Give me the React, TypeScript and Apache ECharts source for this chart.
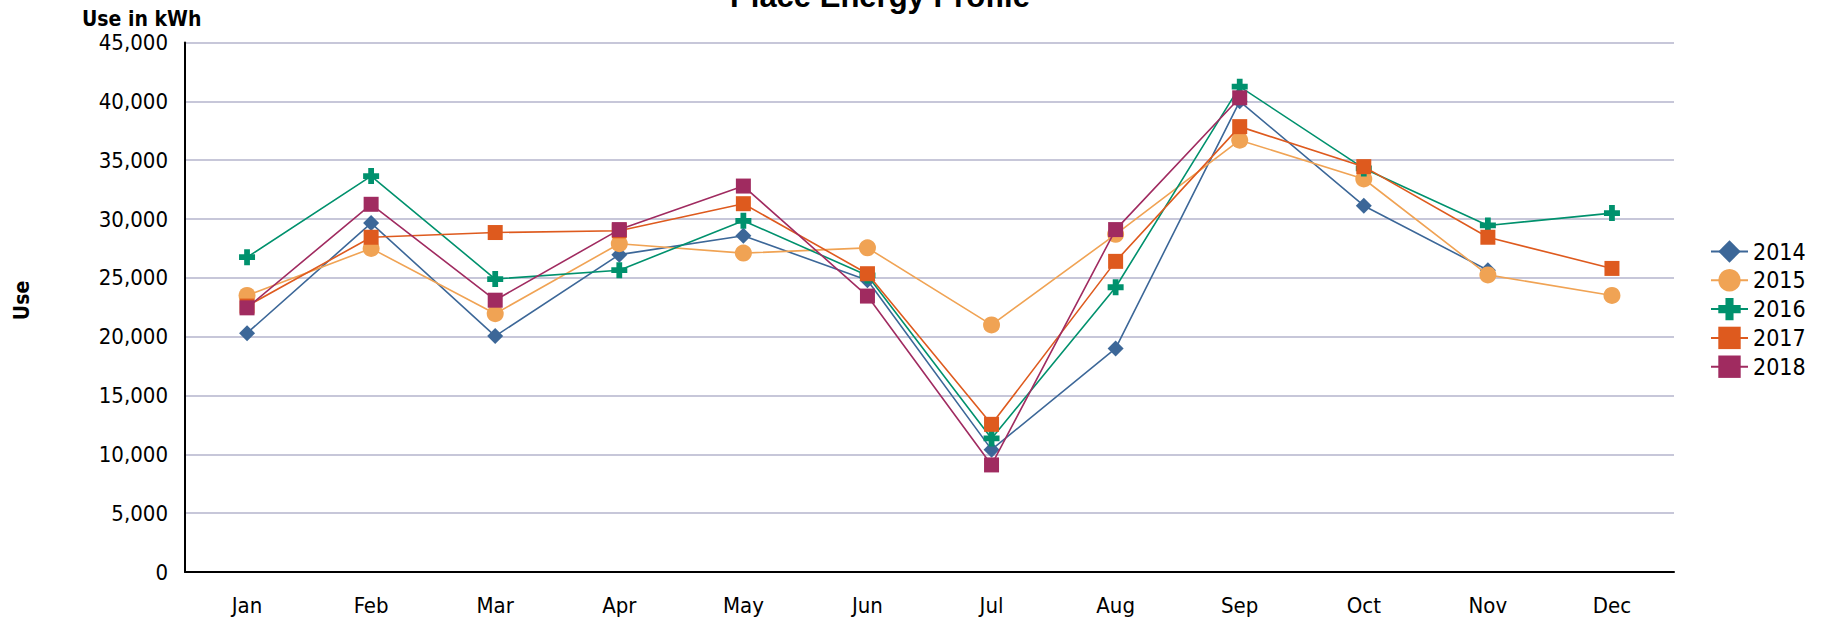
import React, { useEffect, useRef } from "react";
import * as echarts from "echarts";

const months = ["Jan", "Feb", "Mar", "Apr", "May", "Jun", "Jul", "Aug", "Sep", "Oct", "Nov", "Dec"];
const years = ["2014", "2015", "2016", "2017", "2018"];

const use2014 = [20300, 29650, 20050, 26970, 28580, 24800, 10400, 19000, 40000, 31130, 25650, null];
const use2015 = [23500, 27500, 21950, 27900, 27100, 27550, 21000, 28700, 36700, 33400, 25250, 23500];
const use2016 = [26750, 33650, 24900, 25650, 29850, 25200, 11350, 24200, 41250, 34300, 29450, 30500];
const use2017 = [22600, 28450, 28850, 29000, 31300, 25350, 12550, 26400, 37850, 34450, 28450, 25800];
const use2018 = [22450, 31250, 23100, 29100, 32800, 23450, 9100, 29100, 40300, null, null, null];

const seriesValues = [use2014, use2015, use2016, use2017, use2018];
const colors = ["#3C6798", "#F0A354", "#00916D", "#DE5A1E", "#A02B60"];
const PLUS = "path://M32,0H68V32H100V68H68V100H32V68H0V32H32Z";
const symbols = ["diamond", "circle", PLUS, "rect", "rect"];
const symbolSizes = [16, 17, 16, 15, 15];

const FONT = "'DejaVu Sans Condensed', 'DejaVu Sans', sans-serif";

export default function App() {
  const ref = useRef<HTMLDivElement>(null);
  useEffect(() => {
    if (!ref.current) return;
    const chart = echarts.init(ref.current, null, { renderer: "svg" });
    chart.setOption({
      animation: false,
      backgroundColor: "#ffffff",
      grid: { left: 185, right: 148, top: 42.5, bottom: 48, containLabel: false },
      legend: {
        orient: "vertical",
        left: 1705,
        top: 235,
        itemWidth: 37,
        itemHeight: 28,
        itemGap: 5.8,
        data: years,
        textStyle: { fontFamily: FONT, fontSize: 23, color: "#000" },
      },
      xAxis: {
        type: "category",
        data: months,
        boundaryGap: true,
        axisLine: { show: true, lineStyle: { color: "#000", width: 2 } },
        axisTick: { show: false },
        axisLabel: { fontFamily: FONT, fontSize: 22, color: "#000", margin: 22 },
        splitLine: { show: false },
      },
      yAxis: {
        type: "value",
        min: 0,
        max: 45000,
        interval: 5000,
        axisLine: { show: true, lineStyle: { color: "#000", width: 2 } },
        axisTick: { show: false },
        axisLabel: { fontFamily: FONT, fontSize: 22, color: "#000", margin: 17 },
        splitLine: { show: true, lineStyle: { color: "#B5B5CD", width: 1.5 } },
      },
      graphic: [
        {
          type: "text",
          x: 880,
          y: -4,
          style: {
            text: "Place Energy Profile",
            font: "bold 31px 'Liberation Sans', Arial, sans-serif",
            fill: "#000",
            textAlign: "center",
            textVerticalAlign: "middle",
          },
        },
        {
          type: "text",
          x: 82,
          y: 18.5,
          style: {
            text: "Use in kWh",
            font: "bold 21px " + FONT,
            fill: "#000",
            textAlign: "left",
            textVerticalAlign: "middle",
          },
        },
        {
          type: "text",
          x: 22,
          y: 300.5,
          rotation: Math.PI / 2,
          style: {
            text: "Use",
            font: "bold 21px " + FONT,
            fill: "#000",
            textAlign: "center",
            textVerticalAlign: "middle",
          },
        },
      ],
      series: years.map((y, i) => ({
        name: y,
        type: "line",
        data: seriesValues[i],
        symbol: symbols[i],
        symbolSize: symbolSizes[i],
        showAllSymbol: true,
        connectNulls: false,
        itemStyle: { color: colors[i] },
        lineStyle: { color: colors[i], width: 1.6 },
        z: 2 + i,
      })),
    });
    return () => chart.dispose();
  }, []);
  return (
    <div
      ref={ref}
      style={{ position: "fixed", left: 0, top: 0, width: 1822, height: 620 }}
    />
  );
}
